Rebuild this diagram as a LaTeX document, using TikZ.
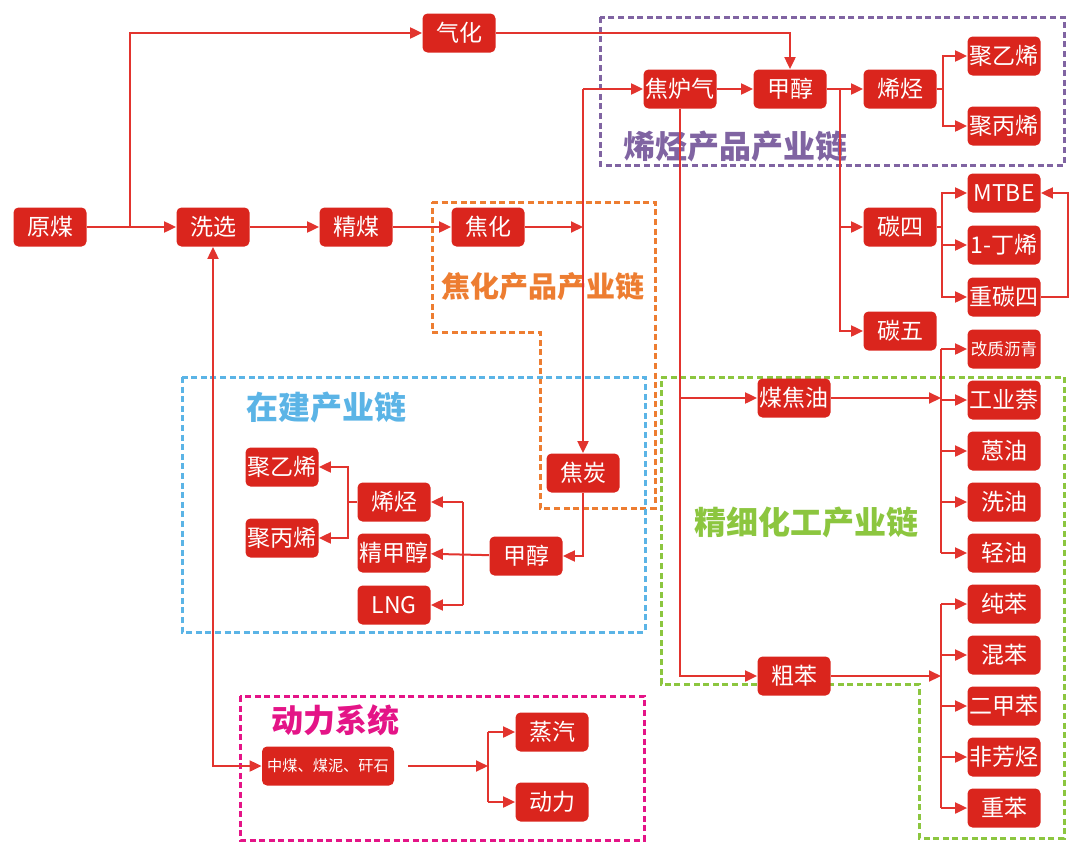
\documentclass[tikz,border=0pt]{standalone}
\usepackage{fontspec}
\newfontfamily\cjk{Noto Sans CJK SC}
\usetikzlibrary{arrows.meta}
\definecolor{boxred}{RGB}{218,37,29}
\definecolor{linered}{RGB}{226,52,46}
\definecolor{chainpurple}{RGB}{128,100,162}
\definecolor{chainorange}{RGB}{237,125,49}
\definecolor{chainblue}{RGB}{91,180,230}
\definecolor{chaingreen}{RGB}{140,198,63}
\definecolor{chainpink}{RGB}{228,20,135}
\tikzset{
  box/.style={fill=boxred, text=white, rounded corners=2.5pt, minimum width=36.5pt,
    minimum height=19.5pt, inner sep=0.5pt, font=\cjk\fontsize{11.5}{13}\selectfont},
  smallbox/.style={box, font=\cjk\fontsize{8.3}{9}\selectfont},
  arr/.style={draw=linered, line width=1pt, -{Triangle[length=6pt,width=5.5pt]}},
  arrboth/.style={draw=linered, line width=1pt, {Triangle[length=6pt,width=5.5pt]}-{Triangle[length=6pt,width=5.5pt]}},
  link/.style={draw=linered, line width=1pt},
  frame/.style={line width=1.5pt, dash pattern=on 3pt off 1.8pt},
  chaintitle/.style={font=\cjk\bfseries\fontsize{16}{18}\selectfont}
}
\begin{document}
\begin{tikzpicture}[x=0.5pt,y=-0.5pt]
  \useasboundingbox (0,0) rectangle (1080,851);

  % frames of the chains
  \draw[frame, chainpurple] (600,17) rectangle (1064,165);
  \draw[frame, chainorange] (432,202) -- (655,202) -- (655,508) -- (540,508) -- (540,332) -- (432,332) -- cycle;
  \draw[frame, chainblue] (182,377) rectangle (645,632);
  \draw[frame, chaingreen] (661,377) -- (1064,377) -- (1064,838) -- (919,838) -- (919,684) -- (661,684) -- cycle;
  \draw[frame, chainpink] (240,696) rectangle (644,840);

  \node[chaintitle, text=chainpurple] (tpurple) at (735,146) {烯烃产品产业链};
  \node[chaintitle, text=chainorange, font=\cjk\bfseries\fontsize{14.5}{16}\selectfont] (torange) at (543,287) {焦化产品产业链};
  \node[chaintitle, text=chainblue] (tblue) at (326,407) {在建产业链};
  \node[chaintitle, text=chaingreen] (tgreen) at (806,522) {精细化工产业链};
  \node[chaintitle, text=chainpink] (tpink) at (335,720) {动力系统};

  % main line
  \node[box] (yuanmei) at (50,227) {原煤};
  \node[box] (xixuan) at (213,227) {洗选};
  \node[box] (jingmei) at (356,227) {精煤};
  \node[box] (jiaohua) at (488,227) {焦化};
  \node[box] (qihua) at (459,33) {气化};

  % olefin chain
  \node[box] (jiaolq) at (680,89) {焦炉气};
  \node[box] (jiachun) at (790,89) {甲醇};
  \node[box] (xiting) at (900,89) {烯烃};
  \node[box] (pe) at (1004,56) {聚乙烯};
  \node[box] (pp) at (1004,126) {聚丙烯};
  \node[box] (tansi) at (900,227) {碳四};
  \node[box] (tanwu) at (900,331) {碳五};
  \node[box] (mtbe) at (1004,193) {MTBE};
  \node[box] (dingxi) at (1004,245) {1-丁烯};
  \node[box] (zhongtansi) at (1004,297) {重碳四};

  % fine chemicals
  \node[box] (meijy) at (794,398) {煤焦油};
  \node[box] (cuben) at (794,676) {粗苯};
  \node[smallbox] (gzlq) at (1004,349) {改质沥青};
  \node[box] (gyn) at (1004,400) {工业萘};
  \node[box] (enyou) at (1004,451) {蒽油};
  \node[box] (xiyou) at (1004,502) {洗油};
  \node[box] (qingyou) at (1004,553) {轻油};
  \node[box] (chunben) at (1004,604) {纯苯};
  \node[box] (hunben) at (1004,655) {混苯};
  \node[box] (erjiaben) at (1004,706) {二甲苯};
  \node[box] (ffanting) at (1004,757) {非芳烃};
  \node[box] (zhongben) at (1004,808) {重苯};

  % chain under construction
  \node[box] (jiaotan) at (583,473) {焦炭};
  \node[box] (jiachunb) at (526,556) {甲醇};
  \node[box] (xitingb) at (394,502) {烯烃};
  \node[box] (jjc) at (394,553) {精甲醇};
  \node[box] (lng) at (394,605) {LNG};
  \node[box] (peb) at (282,467) {聚乙烯};
  \node[box] (ppb) at (282,538) {聚丙烯};

  % power system
  \node[box, minimum width=66pt, font=\cjk\fontsize{7.6}{9}\selectfont] (zhongmei) at (328,766) {中煤、煤泥、矸石};
  \node[box] (zhengqi) at (552,732) {蒸汽};
  \node[box] (dongli) at (552,802) {动力};

  % branch points
  \coordinate (b1) at (130,227);
  \coordinate (b2) at (840,89);
  \coordinate (b3) at (943,89);
  \coordinate (b4) at (942,227);
  \coordinate (b5) at (941,398);
  \coordinate (b6) at (941,676);
  \coordinate (b7) at (463,556);
  \coordinate (b8) at (348,502);
  \coordinate (b9) at (488,766);

  % connectors
  \draw[arr] (yuanmei) -- (xixuan);
  \draw[arr] (b1) |- (qihua.west);
  \draw[arr] (xixuan) -- (jingmei);
  \draw[arr] (jingmei) -- (jiaohua);
  \draw[arr] (jiaohua.east) -- (jiaohua.east -| jiaotan.north);
  \draw[arr] (jiaotan.north |- jiaolq) -- (jiaotan.north);
  \draw[arr] (jiaotan.north |- jiaolq) -- (jiaolq.west);
  \draw[arr] (qihua.east) -| (jiachun.north);
  \draw[arr] (jiaolq) -- (jiachun);
  \draw[arr] (jiachun) -- (xiting);
  \draw[arr] (b2) |- (tansi.west);
  \draw[arr] (b2) |- (tanwu.west);
  \draw[link] (xiting.east) -- (b3);
  \draw[arr] (b3) |- (pe.west);
  \draw[arr] (b3) |- (pp.west);
  \draw[link] (tansi.east) -- (b4);
  \foreach \n in {mtbe,dingxi,zhongtansi}
    \draw[arr] (b4) |- (\n.west);
  \draw[arr] (zhongtansi.east) -- ++(27,0) |- (mtbe.east);

  \draw[arr] (jiaolq.south) |- (cuben.west);
  \draw[arr] (jiaolq.south |- meijy) -- (meijy.west);
  \draw[arr] (meijy.east) -- (b5);
  \draw[link] (b5 |- gzlq) -- (b5 |- qingyou);
  \foreach \n in {gzlq,gyn,enyou,xiyou,qingyou}
    \draw[arr] (b5 |- \n.west) -- (\n.west);
  \draw[arr] (cuben.east) -- (b6);
  \draw[link] (b6 |- chunben) -- (b6 |- zhongben);
  \foreach \n in {chunben,hunben,erjiaben,ffanting,zhongben}
    \draw[arr] (b6 |- \n.west) -- (\n.west);

  \draw[arr] (jiaotan.south) |- (jiachunb.east);
  \draw[arr] (jiachunb) -- (jjc);
  \draw[link] (b7 |- xitingb) -- (b7 |- lng);
  \draw[arr] (b7 |- xitingb) -- (xitingb.east);
  \draw[arr] (b7 |- lng) -- (lng.east);
  \draw[link] (xitingb.west) -- (b8);
  \draw[arr] (b8) |- (peb.east);
  \draw[arr] (b8) |- (ppb.east);

  \draw[arrboth] (xixuan.south) |- (zhongmei.west);
  \draw[arr] ([xshift=7]zhongmei.east) -- (b9);
  \draw[link] (b9 |- zhengqi) -- (b9 |- dongli);
  \draw[arr] (b9 |- zhengqi) -- (zhengqi.west);
  \draw[arr] (b9 |- dongli) -- (dongli.west);
\end{tikzpicture}
\end{document}
